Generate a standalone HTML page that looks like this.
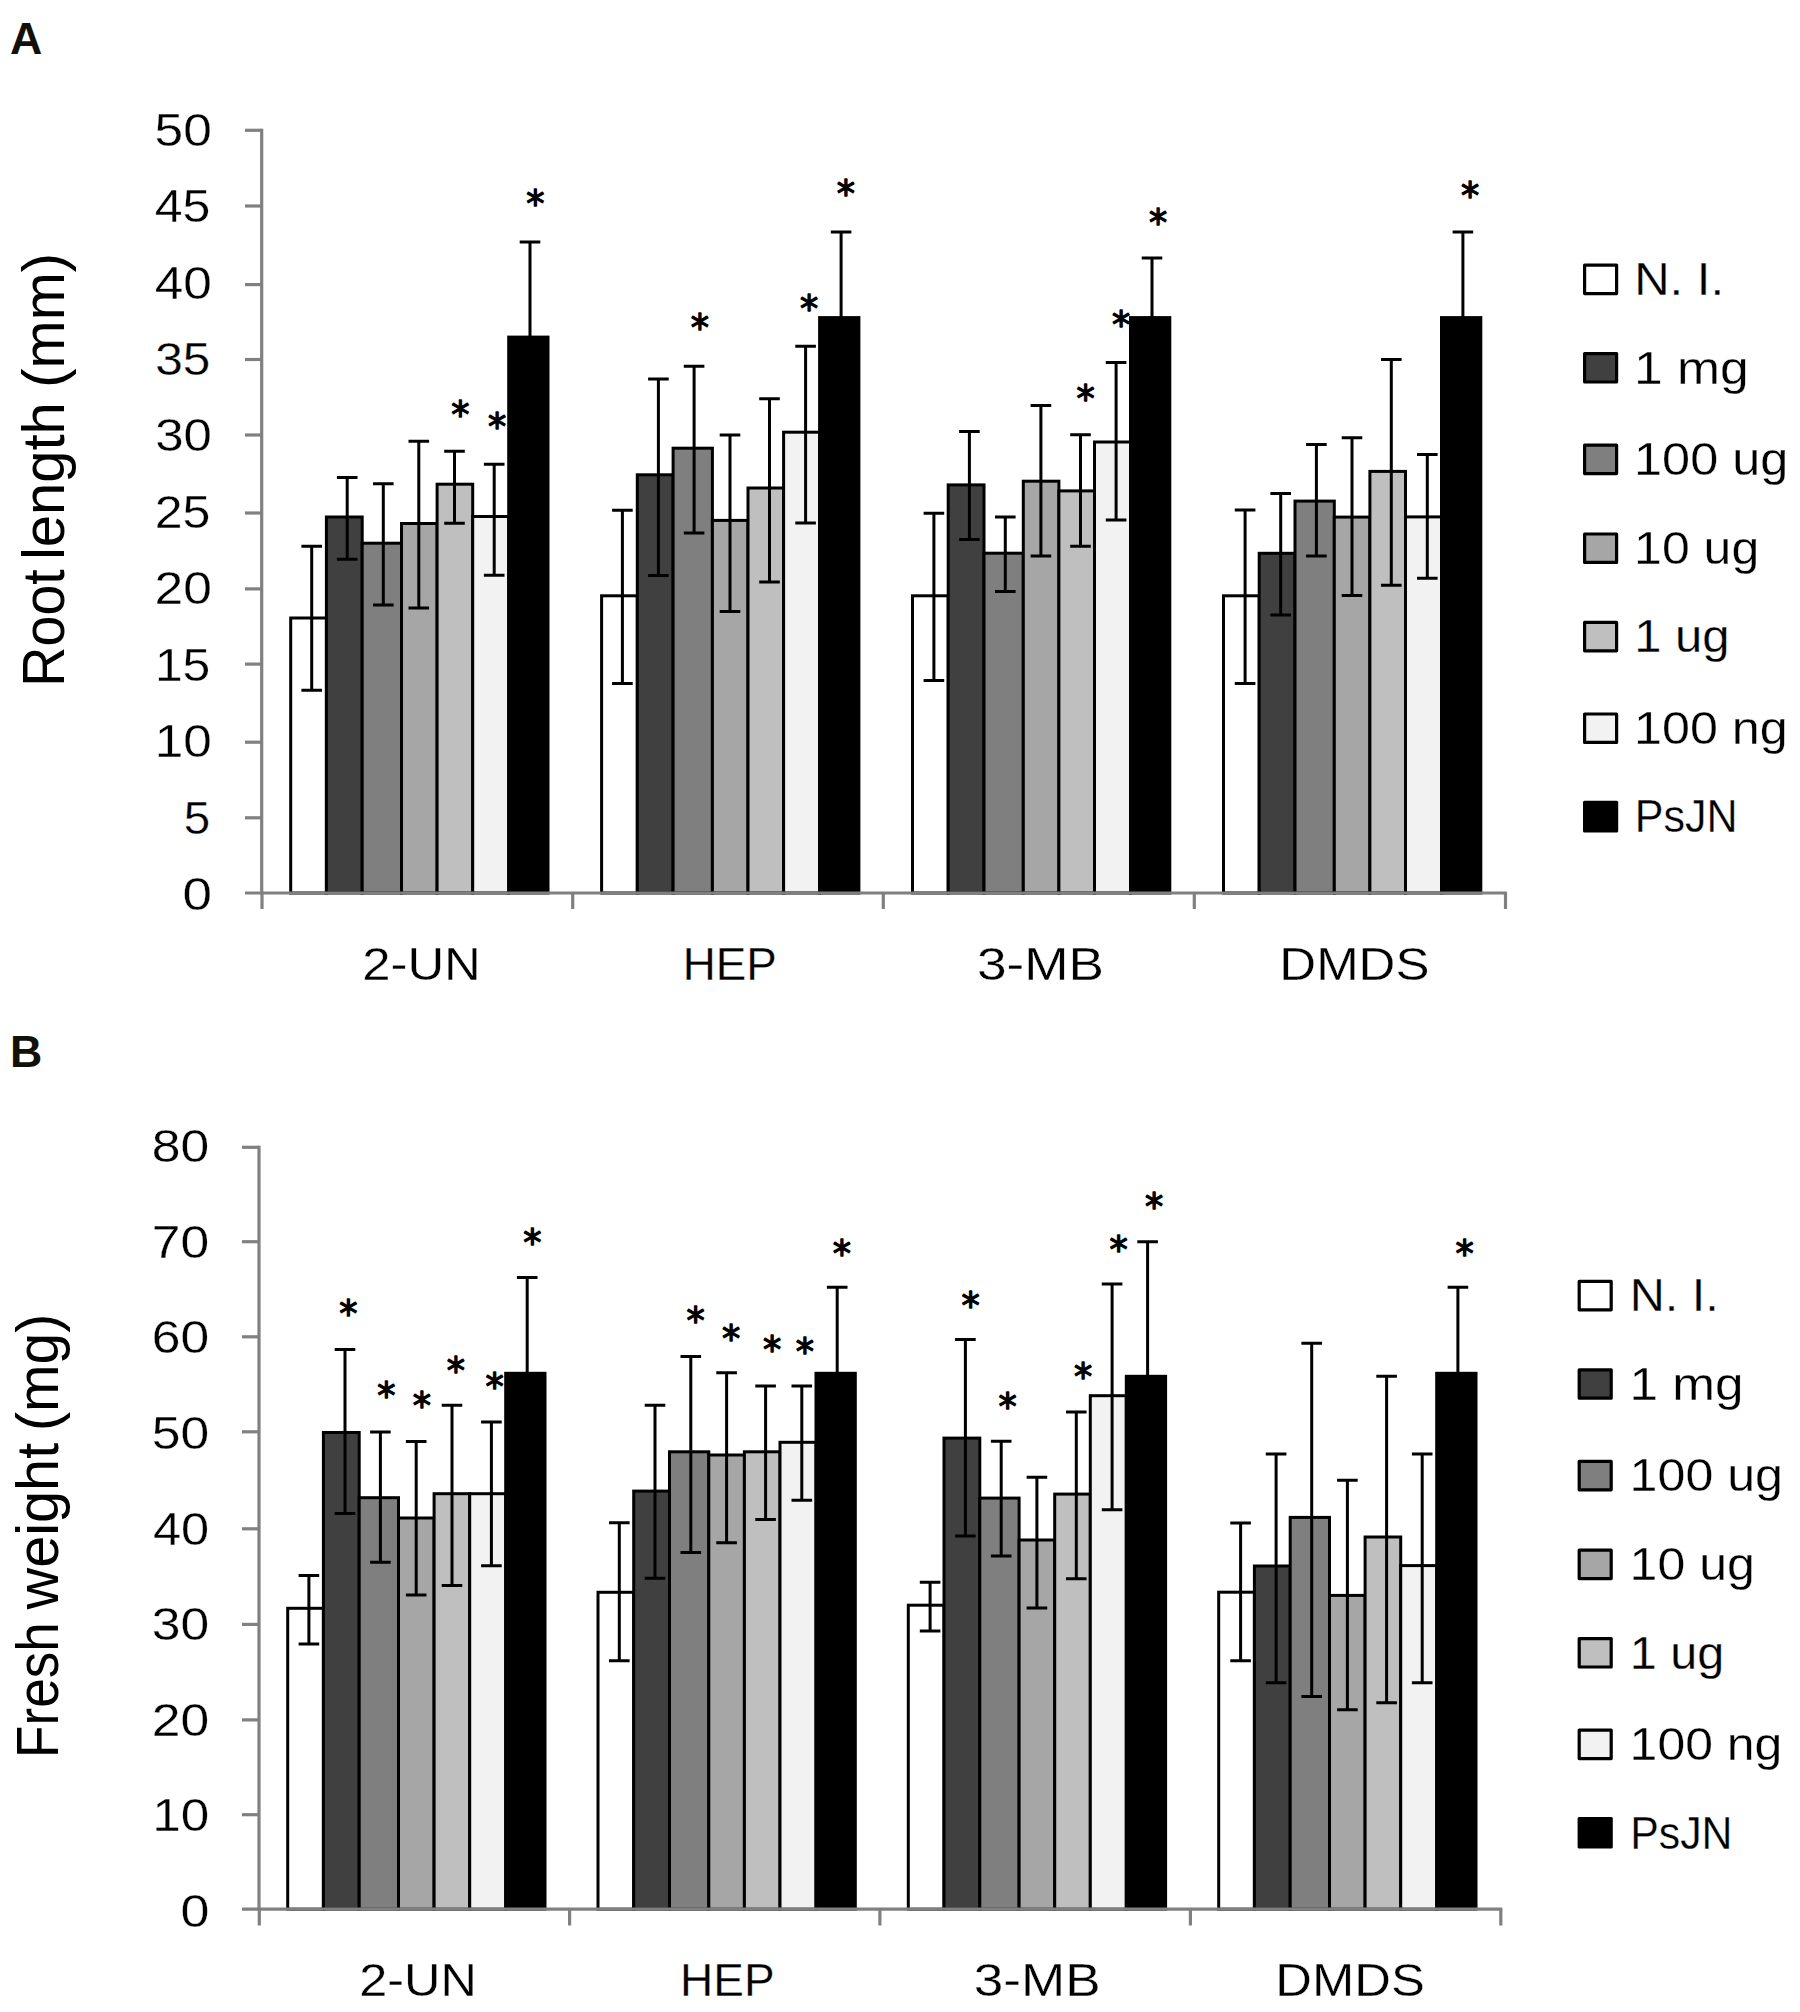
<!DOCTYPE html>
<html lang="en"><head><meta charset="utf-8"><title>Figure: root length and fresh weight</title>
<style>html,body{margin:0;padding:0;background:#fff}svg{display:block}text{white-space:pre}</style></head>
<body>
<svg width="1800" height="2012" viewBox="0 0 1800 2012">
<rect width="1800" height="2012" fill="#fff"/>
<rect x="290.7" y="618" width="35.7" height="275" fill="#ffffff" stroke="#000" stroke-width="3"/>
<rect x="326.4" y="517" width="35.8" height="376" fill="#404040" stroke="#000" stroke-width="3"/>
<rect x="362.2" y="543.2" width="39.3" height="349.8" fill="#7f7f7f" stroke="#000" stroke-width="3"/>
<rect x="401.5" y="523.5" width="35.6" height="369.5" fill="#a6a6a6" stroke="#000" stroke-width="3"/>
<rect x="437.1" y="484.2" width="35.6" height="408.8" fill="#bfbfbf" stroke="#000" stroke-width="3"/>
<rect x="472.7" y="516.5" width="36" height="376.5" fill="#f2f2f2" stroke="#000" stroke-width="3"/>
<rect x="507.2" y="335.6" width="42.3" height="558.9" fill="#000"/>
<rect x="601.6" y="595.8" width="35.7" height="297.2" fill="#ffffff" stroke="#000" stroke-width="3"/>
<rect x="637.3" y="474.8" width="35.8" height="418.2" fill="#404040" stroke="#000" stroke-width="3"/>
<rect x="673.1" y="448.2" width="39.3" height="444.8" fill="#7f7f7f" stroke="#000" stroke-width="3"/>
<rect x="712.4" y="520.4" width="35.6" height="372.6" fill="#a6a6a6" stroke="#000" stroke-width="3"/>
<rect x="748" y="488" width="35.6" height="405" fill="#bfbfbf" stroke="#000" stroke-width="3"/>
<rect x="783.6" y="432.2" width="36" height="460.8" fill="#f2f2f2" stroke="#000" stroke-width="3"/>
<rect x="818.1" y="316.1" width="42.3" height="578.4" fill="#000"/>
<rect x="912.5" y="595.8" width="35.7" height="297.2" fill="#ffffff" stroke="#000" stroke-width="3"/>
<rect x="948.2" y="484.9" width="35.8" height="408.1" fill="#404040" stroke="#000" stroke-width="3"/>
<rect x="984" y="553.2" width="39.3" height="339.8" fill="#7f7f7f" stroke="#000" stroke-width="3"/>
<rect x="1023.3" y="481.2" width="35.6" height="411.8" fill="#a6a6a6" stroke="#000" stroke-width="3"/>
<rect x="1058.9" y="490.9" width="35.6" height="402.1" fill="#bfbfbf" stroke="#000" stroke-width="3"/>
<rect x="1094.5" y="442" width="36" height="451" fill="#f2f2f2" stroke="#000" stroke-width="3"/>
<rect x="1129" y="316.1" width="42.3" height="578.4" fill="#000"/>
<rect x="1223.5" y="595.8" width="35.7" height="297.2" fill="#ffffff" stroke="#000" stroke-width="3"/>
<rect x="1259.2" y="553.3" width="35.8" height="339.7" fill="#404040" stroke="#000" stroke-width="3"/>
<rect x="1295" y="501.1" width="39.3" height="391.9" fill="#7f7f7f" stroke="#000" stroke-width="3"/>
<rect x="1334.3" y="517.1" width="35.6" height="375.9" fill="#a6a6a6" stroke="#000" stroke-width="3"/>
<rect x="1369.9" y="471.4" width="35.6" height="421.6" fill="#bfbfbf" stroke="#000" stroke-width="3"/>
<rect x="1405.5" y="516.9" width="36" height="376.1" fill="#f2f2f2" stroke="#000" stroke-width="3"/>
<rect x="1440" y="316.1" width="42.3" height="578.4" fill="#000"/>
<g stroke="#808080" stroke-width="3.2" fill="none" stroke-linejoin="round">
<path d="M261.7 128.8 V894.5"/>
<path d="M245 893 H1507"/>
<path d="M245 130.3 H261.7"/>
<path d="M245 206 H261.7"/>
<path d="M245 284.6 H261.7"/>
<path d="M245 359.5 H261.7"/>
<path d="M245 435 H261.7"/>
<path d="M245 513 H261.7"/>
<path d="M245 588.9 H261.7"/>
<path d="M245 664.1 H261.7"/>
<path d="M245 742.2 H261.7"/>
<path d="M245 817.8 H261.7"/>
<path d="M262 893 V909"/>
<path d="M572.7 893 V909"/>
<path d="M883.3 893 V909"/>
<path d="M1194.3 893 V909"/>
<path d="M1505.5 893 V909"/>
</g>
<g stroke="#000" stroke-width="3" fill="none">
<path d="M311.7 546.3 V690.3 M301.4 546.3 H322 M301.4 690.3 H322"/>
<path d="M347.2 477.5 V559.2 M336.9 477.5 H357.5 M336.9 559.2 H357.5"/>
<path d="M383.3 483.8 V605 M373 483.8 H393.6 M373 605 H393.6"/>
<path d="M418.8 441.2 V608 M408.5 441.2 H429.1 M408.5 608 H429.1"/>
<path d="M454.5 451.2 V523.3 M444.2 451.2 H464.8 M444.2 523.3 H464.8"/>
<path d="M494.2 464.2 V575.3 M483.9 464.2 H504.5 M483.9 575.3 H504.5"/>
<path d="M530 242 V339.6 M519.7 242 H540.3"/>
<path d="M622.4 510.3 V683.5 M612.1 510.3 H632.7 M612.1 683.5 H632.7"/>
<path d="M658.4 379 V575.6 M648.1 379 H668.7 M648.1 575.6 H668.7"/>
<path d="M694.1 366.2 V532.9 M683.8 366.2 H704.4 M683.8 532.9 H704.4"/>
<path d="M730 435 V611.5 M719.7 435 H740.3 M719.7 611.5 H740.3"/>
<path d="M769.5 398.8 V582.1 M759.2 398.8 H779.8 M759.2 582.1 H779.8"/>
<path d="M805.6 346.3 V523.1 M795.3 346.3 H815.9 M795.3 523.1 H815.9"/>
<path d="M841.1 232 V320.1 M830.8 232 H851.4"/>
<path d="M933.9 513.3 V680.4 M923.6 513.3 H944.2 M923.6 680.4 H944.2"/>
<path d="M969.4 431.4 V539.5 M959.1 431.4 H979.7 M959.1 539.5 H979.7"/>
<path d="M1005.3 516.9 V591.6 M995 516.9 H1015.6 M995 591.6 H1015.6"/>
<path d="M1040.9 405.4 V556 M1030.6 405.4 H1051.2 M1030.6 556 H1051.2"/>
<path d="M1080.5 434.8 V546.2 M1070.2 434.8 H1090.8 M1070.2 546.2 H1090.8"/>
<path d="M1116.1 362.6 V519.9 M1105.8 362.6 H1126.4 M1105.8 519.9 H1126.4"/>
<path d="M1152 257.9 V320.1 M1141.7 257.9 H1162.3"/>
<path d="M1245.1 510.1 V683.5 M1234.8 510.1 H1255.4 M1234.8 683.5 H1255.4"/>
<path d="M1280.7 493.4 V615 M1270.4 493.4 H1291 M1270.4 615 H1291"/>
<path d="M1316.4 444.6 V556 M1306.1 444.6 H1326.7 M1306.1 556 H1326.7"/>
<path d="M1352 437.8 V595.5 M1341.7 437.8 H1362.3 M1341.7 595.5 H1362.3"/>
<path d="M1391.3 359.6 V585.3 M1381 359.6 H1401.6 M1381 585.3 H1401.6"/>
<path d="M1427.3 454.4 V578.2 M1417 454.4 H1437.6 M1417 578.2 H1437.6"/>
<path d="M1462.9 232 V320.1 M1452.6 232 H1473.2"/>
</g>
<rect x="287.7" y="1608.3" width="35.7" height="300.9" fill="#ffffff" stroke="#000" stroke-width="3"/>
<rect x="323.4" y="1432.5" width="35.8" height="476.7" fill="#404040" stroke="#000" stroke-width="3"/>
<rect x="359.2" y="1497.7" width="39.3" height="411.5" fill="#7f7f7f" stroke="#000" stroke-width="3"/>
<rect x="398.5" y="1518" width="35.6" height="391.2" fill="#a6a6a6" stroke="#000" stroke-width="3"/>
<rect x="434.1" y="1493.7" width="35.6" height="415.5" fill="#bfbfbf" stroke="#000" stroke-width="3"/>
<rect x="469.7" y="1493.7" width="36" height="415.5" fill="#f2f2f2" stroke="#000" stroke-width="3"/>
<rect x="504.2" y="1371.8" width="42.3" height="538.9" fill="#000"/>
<rect x="598" y="1592.3" width="35.7" height="316.9" fill="#ffffff" stroke="#000" stroke-width="3"/>
<rect x="633.7" y="1491.1" width="35.8" height="418.1" fill="#404040" stroke="#000" stroke-width="3"/>
<rect x="669.5" y="1451.8" width="39.3" height="457.4" fill="#7f7f7f" stroke="#000" stroke-width="3"/>
<rect x="708.8" y="1455" width="35.6" height="454.2" fill="#a6a6a6" stroke="#000" stroke-width="3"/>
<rect x="744.4" y="1451.8" width="35.6" height="457.4" fill="#bfbfbf" stroke="#000" stroke-width="3"/>
<rect x="780" y="1442.3" width="36" height="466.9" fill="#f2f2f2" stroke="#000" stroke-width="3"/>
<rect x="814.5" y="1371.8" width="42.3" height="538.9" fill="#000"/>
<rect x="908.3" y="1605.2" width="35.7" height="304" fill="#ffffff" stroke="#000" stroke-width="3"/>
<rect x="944" y="1438.1" width="35.8" height="471.1" fill="#404040" stroke="#000" stroke-width="3"/>
<rect x="979.8" y="1498.1" width="39.3" height="411.1" fill="#7f7f7f" stroke="#000" stroke-width="3"/>
<rect x="1019.1" y="1540" width="35.6" height="369.2" fill="#a6a6a6" stroke="#000" stroke-width="3"/>
<rect x="1054.7" y="1494.1" width="35.6" height="415.1" fill="#bfbfbf" stroke="#000" stroke-width="3"/>
<rect x="1090.3" y="1395.7" width="36" height="513.5" fill="#f2f2f2" stroke="#000" stroke-width="3"/>
<rect x="1124.8" y="1374.8" width="42.3" height="535.9" fill="#000"/>
<rect x="1218.7" y="1592.2" width="35.7" height="317" fill="#ffffff" stroke="#000" stroke-width="3"/>
<rect x="1254.4" y="1566" width="35.8" height="343.2" fill="#404040" stroke="#000" stroke-width="3"/>
<rect x="1290.2" y="1517.4" width="39.3" height="391.8" fill="#7f7f7f" stroke="#000" stroke-width="3"/>
<rect x="1329.5" y="1595.4" width="35.6" height="313.8" fill="#a6a6a6" stroke="#000" stroke-width="3"/>
<rect x="1365.1" y="1537" width="35.6" height="372.2" fill="#bfbfbf" stroke="#000" stroke-width="3"/>
<rect x="1400.7" y="1565.6" width="36" height="343.6" fill="#f2f2f2" stroke="#000" stroke-width="3"/>
<rect x="1435.2" y="1371.8" width="42.3" height="538.9" fill="#000"/>
<g stroke="#808080" stroke-width="3.2" fill="none" stroke-linejoin="round">
<path d="M259 1145.8 V1910.7"/>
<path d="M242 1909.2 H1502.3"/>
<path d="M242 1147.3 H259"/>
<path d="M242 1241.7 H259"/>
<path d="M242 1336.8 H259"/>
<path d="M242 1431.8 H259"/>
<path d="M242 1528.8 H259"/>
<path d="M242 1624.4 H259"/>
<path d="M242 1719.9 H259"/>
<path d="M242 1814.7 H259"/>
<path d="M259.3 1909.2 V1925.5"/>
<path d="M569.6 1909.2 V1925.5"/>
<path d="M879.9 1909.2 V1925.5"/>
<path d="M1190.4 1909.2 V1925.5"/>
<path d="M1500.8 1909.2 V1925.5"/>
</g>
<g stroke="#000" stroke-width="3" fill="none">
<path d="M308.9 1575.5 V1644.1 M298.6 1575.5 H319.2 M298.6 1644.1 H319.2"/>
<path d="M345 1349.4 V1513.6 M334.7 1349.4 H355.3 M334.7 1513.6 H355.3"/>
<path d="M380.4 1432.1 V1562.3 M370.1 1432.1 H390.7 M370.1 1562.3 H390.7"/>
<path d="M416.2 1441.6 V1595 M405.9 1441.6 H426.5 M405.9 1595 H426.5"/>
<path d="M452 1405.3 V1585.4 M441.7 1405.3 H462.3 M441.7 1585.4 H462.3"/>
<path d="M491.4 1421.9 V1565.7 M481.1 1421.9 H501.7 M481.1 1565.7 H501.7"/>
<path d="M527.2 1277.5 V1375.8 M516.9 1277.5 H537.5"/>
<path d="M619.3 1522.8 V1660.8 M609 1522.8 H629.6 M609 1660.8 H629.6"/>
<path d="M655 1405.3 V1578.3 M644.7 1405.3 H665.3 M644.7 1578.3 H665.3"/>
<path d="M690.8 1356.6 V1552.5 M680.5 1356.6 H701.1 M680.5 1552.5 H701.1"/>
<path d="M726.6 1372.7 V1542.7 M716.3 1372.7 H736.9 M716.3 1542.7 H736.9"/>
<path d="M765.6 1386.1 V1519.5 M755.3 1386.1 H775.9 M755.3 1519.5 H775.9"/>
<path d="M801.8 1386.1 V1500.2 M791.5 1386.1 H812.1 M791.5 1500.2 H812.1"/>
<path d="M837.2 1287.3 V1375.8 M826.9 1287.3 H847.5"/>
<path d="M930.1 1582.2 V1631.1 M919.8 1582.2 H940.4 M919.8 1631.1 H940.4"/>
<path d="M965.4 1339.5 V1536 M955.1 1339.5 H975.7 M955.1 1536 H975.7"/>
<path d="M1001.2 1441.3 V1555.9 M990.9 1441.3 H1011.5 M990.9 1555.9 H1011.5"/>
<path d="M1036.9 1477.3 V1608 M1026.6 1477.3 H1047.2 M1026.6 1608 H1047.2"/>
<path d="M1076.3 1412 V1578.7 M1066 1412 H1086.6 M1066 1578.7 H1086.6"/>
<path d="M1112.1 1284 V1509.8 M1101.8 1284 H1122.4 M1101.8 1509.8 H1122.4"/>
<path d="M1147.6 1241.8 V1378.8 M1137.3 1241.8 H1157.9"/>
<path d="M1240.6 1523 V1660.8 M1230.3 1523 H1250.9 M1230.3 1660.8 H1250.9"/>
<path d="M1276.1 1454.1 V1682.7 M1265.8 1454.1 H1286.4 M1265.8 1682.7 H1286.4"/>
<path d="M1311.7 1343.2 V1696.4 M1301.4 1343.2 H1322 M1301.4 1696.4 H1322"/>
<path d="M1347.4 1480.2 V1709.7 M1337.1 1480.2 H1357.7 M1337.1 1709.7 H1357.7"/>
<path d="M1386.6 1376.3 V1702.8 M1376.3 1376.3 H1396.9 M1376.3 1702.8 H1396.9"/>
<path d="M1422.2 1454.1 V1682.7 M1411.9 1454.1 H1432.5 M1411.9 1682.7 H1432.5"/>
<path d="M1457.9 1287.3 V1375.8 M1447.6 1287.3 H1468.2"/>
</g>
<rect x="1584.6" y="265.2" width="32" height="28.4" fill="#ffffff" stroke="#000" stroke-width="3.2" stroke-linejoin="round"/>
<rect x="1584.6" y="353.6" width="32" height="28.4" fill="#404040" stroke="#000" stroke-width="3.2" stroke-linejoin="round"/>
<rect x="1584.6" y="445.2" width="32" height="28.4" fill="#7f7f7f" stroke="#000" stroke-width="3.2" stroke-linejoin="round"/>
<rect x="1584.6" y="534" width="32" height="28.4" fill="#a6a6a6" stroke="#000" stroke-width="3.2" stroke-linejoin="round"/>
<rect x="1584.6" y="622.4" width="32" height="28.4" fill="#bfbfbf" stroke="#000" stroke-width="3.2" stroke-linejoin="round"/>
<rect x="1584.6" y="714" width="32" height="28.4" fill="#f2f2f2" stroke="#000" stroke-width="3.2" stroke-linejoin="round"/>
<rect x="1583" y="800.8" width="35.2" height="31.6" rx="1.5" fill="#000"/>
<rect x="1579.2" y="1281.4" width="32" height="28.4" fill="#ffffff" stroke="#000" stroke-width="3.2" stroke-linejoin="round"/>
<rect x="1579.2" y="1369.8" width="32" height="28.4" fill="#404040" stroke="#000" stroke-width="3.2" stroke-linejoin="round"/>
<rect x="1579.2" y="1461.4" width="32" height="28.4" fill="#7f7f7f" stroke="#000" stroke-width="3.2" stroke-linejoin="round"/>
<rect x="1579.2" y="1550.2" width="32" height="28.4" fill="#a6a6a6" stroke="#000" stroke-width="3.2" stroke-linejoin="round"/>
<rect x="1579.2" y="1638.6" width="32" height="28.4" fill="#bfbfbf" stroke="#000" stroke-width="3.2" stroke-linejoin="round"/>
<rect x="1579.2" y="1730.2" width="32" height="28.4" fill="#f2f2f2" stroke="#000" stroke-width="3.2" stroke-linejoin="round"/>
<rect x="1577.6" y="1817" width="35.2" height="31.6" rx="1.5" fill="#000"/>
<text transform="translate(10 53.9) scale(1.0000 1)" font-family='"Liberation Sans", sans-serif' font-size="44.7" font-weight="bold" text-anchor="start" fill="#12100b">A</text>
<text transform="translate(10 1067) scale(1.0000 1)" font-family='"Liberation Sans", sans-serif' font-size="44.7" font-weight="bold" text-anchor="start" fill="#12100b">B</text>
<text transform="translate(154.58 145.6) scale(1.1083 1)" font-family='"Liberation Sans", sans-serif' font-size="46.5" font-weight="normal" text-anchor="start" fill="#000" stroke="#fff" stroke-width="0.3">50</text>
<text transform="translate(154.72 222.06) scale(1.0755 1)" font-family='"Liberation Sans", sans-serif' font-size="46.5" font-weight="normal" text-anchor="start" fill="#000" stroke="#fff" stroke-width="0.3">45</text>
<text transform="translate(154.69 298.52) scale(1.1061 1)" font-family='"Liberation Sans", sans-serif' font-size="46.5" font-weight="normal" text-anchor="start" fill="#000" stroke="#fff" stroke-width="0.3">40</text>
<text transform="translate(155.27 374.98) scale(1.0646 1)" font-family='"Liberation Sans", sans-serif' font-size="46.5" font-weight="normal" text-anchor="start" fill="#000" stroke="#fff" stroke-width="0.3">35</text>
<text transform="translate(155.21 451.44) scale(1.0958 1)" font-family='"Liberation Sans", sans-serif' font-size="46.5" font-weight="normal" text-anchor="start" fill="#000" stroke="#fff" stroke-width="0.3">30</text>
<text transform="translate(154.65 527.9) scale(1.0771 1)" font-family='"Liberation Sans", sans-serif' font-size="46.5" font-weight="normal" text-anchor="start" fill="#000" stroke="#fff" stroke-width="0.3">25</text>
<text transform="translate(154.58 604.36) scale(1.1083 1)" font-family='"Liberation Sans", sans-serif' font-size="46.5" font-weight="normal" text-anchor="start" fill="#000" stroke="#fff" stroke-width="0.3">20</text>
<text transform="translate(154.91 680.82) scale(1.0717 1)" font-family='"Liberation Sans", sans-serif' font-size="46.5" font-weight="normal" text-anchor="start" fill="#000" stroke="#fff" stroke-width="0.3">15</text>
<text transform="translate(154.78 757.28) scale(1.1043 1)" font-family='"Liberation Sans", sans-serif' font-size="46.5" font-weight="normal" text-anchor="start" fill="#000" stroke="#fff" stroke-width="0.3">10</text>
<text transform="translate(183.85 833.74) scale(1.0227 1)" font-family='"Liberation Sans", sans-serif' font-size="46.5" font-weight="normal" text-anchor="start" fill="#000" stroke="#fff" stroke-width="0.3">5</text>
<text transform="translate(182.42 910.2) scale(1.1409 1)" font-family='"Liberation Sans", sans-serif' font-size="46.5" font-weight="normal" text-anchor="start" fill="#000" stroke="#fff" stroke-width="0.3">0</text>
<text transform="translate(151.78 1161.9) scale(1.1104 1)" font-family='"Liberation Sans", sans-serif' font-size="46.5" font-weight="normal" text-anchor="start" fill="#000" stroke="#fff" stroke-width="0.3">80</text>
<text transform="translate(151.78 1257.55) scale(1.1104 1)" font-family='"Liberation Sans", sans-serif' font-size="46.5" font-weight="normal" text-anchor="start" fill="#000" stroke="#fff" stroke-width="0.3">70</text>
<text transform="translate(151.78 1353.2) scale(1.1104 1)" font-family='"Liberation Sans", sans-serif' font-size="46.5" font-weight="normal" text-anchor="start" fill="#000" stroke="#fff" stroke-width="0.3">60</text>
<text transform="translate(151.78 1448.85) scale(1.1104 1)" font-family='"Liberation Sans", sans-serif' font-size="46.5" font-weight="normal" text-anchor="start" fill="#000" stroke="#fff" stroke-width="0.3">50</text>
<text transform="translate(152.91 1544.5) scale(1.0878 1)" font-family='"Liberation Sans", sans-serif' font-size="46.5" font-weight="normal" text-anchor="start" fill="#000" stroke="#fff" stroke-width="0.3">40</text>
<text transform="translate(151.78 1640.15) scale(1.1104 1)" font-family='"Liberation Sans", sans-serif' font-size="46.5" font-weight="normal" text-anchor="start" fill="#000" stroke="#fff" stroke-width="0.3">30</text>
<text transform="translate(151.78 1735.8) scale(1.1104 1)" font-family='"Liberation Sans", sans-serif' font-size="46.5" font-weight="normal" text-anchor="start" fill="#000" stroke="#fff" stroke-width="0.3">20</text>
<text transform="translate(152.19 1831.45) scale(1.1022 1)" font-family='"Liberation Sans", sans-serif' font-size="46.5" font-weight="normal" text-anchor="start" fill="#000" stroke="#fff" stroke-width="0.3">10</text>
<text transform="translate(180.46 1927.1) scale(1.1182 1)" font-family='"Liberation Sans", sans-serif' font-size="46.5" font-weight="normal" text-anchor="start" fill="#000" stroke="#fff" stroke-width="0.3">0</text>
<text transform="translate(362.21 980.2) scale(1.0932 1)" font-family='"Liberation Sans", sans-serif' font-size="46.5" font-weight="normal" text-anchor="start" fill="#000" stroke="#fff" stroke-width="0.3">2-UN</text>
<text transform="translate(682.76 980.2) scale(0.9843 1)" font-family='"Liberation Sans", sans-serif' font-size="46.5" font-weight="normal" text-anchor="start" fill="#000" stroke="#fff" stroke-width="0.3">HEP</text>
<text transform="translate(977.01 980.2) scale(1.1439 1)" font-family='"Liberation Sans", sans-serif' font-size="46.5" font-weight="normal" text-anchor="start" fill="#000" stroke="#fff" stroke-width="0.3">3-MB</text>
<text transform="translate(1279.31 980.2) scale(1.0969 1)" font-family='"Liberation Sans", sans-serif' font-size="46.5" font-weight="normal" text-anchor="start" fill="#000" stroke="#fff" stroke-width="0.3">DMDS</text>
<text transform="translate(359.13 1996.4) scale(1.0854 1)" font-family='"Liberation Sans", sans-serif' font-size="46.5" font-weight="normal" text-anchor="start" fill="#000" stroke="#fff" stroke-width="0.3">2-UN</text>
<text transform="translate(680.04 1996.4) scale(0.9888 1)" font-family='"Liberation Sans", sans-serif' font-size="46.5" font-weight="normal" text-anchor="start" fill="#000" stroke="#fff" stroke-width="0.3">HEP</text>
<text transform="translate(973.72 1996.4) scale(1.1421 1)" font-family='"Liberation Sans", sans-serif' font-size="46.5" font-weight="normal" text-anchor="start" fill="#000" stroke="#fff" stroke-width="0.3">3-MB</text>
<text transform="translate(1275.33 1996.4) scale(1.0916 1)" font-family='"Liberation Sans", sans-serif' font-size="46.5" font-weight="normal" text-anchor="start" fill="#000" stroke="#fff" stroke-width="0.3">DMDS</text>
<text transform="translate(1634.18 295.2) scale(1.0545 1)" font-family='"Liberation Sans", sans-serif' font-size="46.5" font-weight="normal" text-anchor="start" fill="#000" stroke="#fff" stroke-width="0.3">N. I.</text>
<text transform="translate(1629.72 1311.4) scale(1.0455 1)" font-family='"Liberation Sans", sans-serif' font-size="46.5" font-weight="normal" text-anchor="start" fill="#000" stroke="#fff" stroke-width="0.3">N. I.</text>
<text transform="translate(1633.96 383.6) scale(1.1104 1)" font-family='"Liberation Sans", sans-serif' font-size="46.5" font-weight="normal" text-anchor="start" fill="#000" stroke="#fff" stroke-width="0.3">1 mg</text>
<text transform="translate(1629.49 1399.8) scale(1.1031 1)" font-family='"Liberation Sans", sans-serif' font-size="46.5" font-weight="normal" text-anchor="start" fill="#000" stroke="#fff" stroke-width="0.3">1 mg</text>
<text transform="translate(1634.06 475.2) scale(1.0844 1)" font-family='"Liberation Sans", sans-serif' font-size="46.5" font-weight="normal" text-anchor="start" fill="#000" stroke="#fff" stroke-width="0.3">100 ug</text>
<text transform="translate(1629.58 1491.4) scale(1.0793 1)" font-family='"Liberation Sans", sans-serif' font-size="46.5" font-weight="normal" text-anchor="start" fill="#000" stroke="#fff" stroke-width="0.3">100 ug</text>
<text transform="translate(1634.1 564) scale(1.0752 1)" font-family='"Liberation Sans", sans-serif' font-size="46.5" font-weight="normal" text-anchor="start" fill="#000" stroke="#fff" stroke-width="0.3">10 ug</text>
<text transform="translate(1629.6 1580.2) scale(1.0761 1)" font-family='"Liberation Sans", sans-serif' font-size="46.5" font-weight="normal" text-anchor="start" fill="#000" stroke="#fff" stroke-width="0.3">10 ug</text>
<text transform="translate(1634.18 652.4) scale(1.0548 1)" font-family='"Liberation Sans", sans-serif' font-size="46.5" font-weight="normal" text-anchor="start" fill="#000" stroke="#fff" stroke-width="0.3">1 ug</text>
<text transform="translate(1629.72 1668.6) scale(1.0440 1)" font-family='"Liberation Sans", sans-serif' font-size="46.5" font-weight="normal" text-anchor="start" fill="#000" stroke="#fff" stroke-width="0.3">1 ug</text>
<text transform="translate(1634.08 744) scale(1.0807 1)" font-family='"Liberation Sans", sans-serif' font-size="46.5" font-weight="normal" text-anchor="start" fill="#000" stroke="#fff" stroke-width="0.3">100 ng</text>
<text transform="translate(1629.6 1760.2) scale(1.0741 1)" font-family='"Liberation Sans", sans-serif' font-size="46.5" font-weight="normal" text-anchor="start" fill="#000" stroke="#fff" stroke-width="0.3">100 ng</text>
<text transform="translate(1634.7 832.4) scale(0.9262 1)" font-family='"Liberation Sans", sans-serif' font-size="46.5" font-weight="normal" text-anchor="start" fill="#000" stroke="#fff" stroke-width="0.3">PsJN</text>
<text transform="translate(1630.21 1848.6) scale(0.9214 1)" font-family='"Liberation Sans", sans-serif' font-size="46.5" font-weight="normal" text-anchor="start" fill="#000" stroke="#fff" stroke-width="0.3">PsJN</text>
<text transform="translate(63.8 682.1) rotate(-90) scale(1.0000 1)" font-family='"Liberation Sans", sans-serif' font-size="60" font-weight="normal" text-anchor="start" fill="#000"><tspan x="-4.64" textLength="117.53" lengthAdjust="spacingAndGlyphs">Root</tspan> <tspan x="122.04" textLength="157.89" lengthAdjust="spacingAndGlyphs">length</tspan> <tspan x="294.45" textLength="134.73" lengthAdjust="spacingAndGlyphs">(mm)</tspan></text>
<text transform="translate(57.9 1753.5) rotate(-90) scale(1.0000 1)" font-family='"Liberation Sans", sans-serif' font-size="60" font-weight="normal" text-anchor="start" fill="#000"><tspan x="-4.42" textLength="135.59" lengthAdjust="spacingAndGlyphs">Fresh</tspan> <tspan x="144.00" textLength="166.72" lengthAdjust="spacingAndGlyphs">weight</tspan> <tspan x="322.60" textLength="117.09" lengthAdjust="spacingAndGlyphs">(mg)</tspan></text>
<text transform="translate(451.29 427.68) scale(1.0000 1)" font-family='"DejaVu Sans", sans-serif' font-size="36.42" font-weight="normal" text-anchor="start" fill="#000" stroke="#000" stroke-width="1.3" stroke-linejoin="round">*</text>
<text transform="translate(487.89 440.28) scale(1.0000 1)" font-family='"DejaVu Sans", sans-serif' font-size="36.42" font-weight="normal" text-anchor="start" fill="#000" stroke="#000" stroke-width="1.3" stroke-linejoin="round">*</text>
<text transform="translate(526.19 217.48) scale(1.0000 1)" font-family='"DejaVu Sans", sans-serif' font-size="36.42" font-weight="normal" text-anchor="start" fill="#000" stroke="#000" stroke-width="1.3" stroke-linejoin="round">*</text>
<text transform="translate(690.69 340.58) scale(1.0000 1)" font-family='"DejaVu Sans", sans-serif' font-size="36.42" font-weight="normal" text-anchor="start" fill="#000" stroke="#000" stroke-width="1.3" stroke-linejoin="round">*</text>
<text transform="translate(799.89 322.28) scale(1.0000 1)" font-family='"DejaVu Sans", sans-serif' font-size="36.42" font-weight="normal" text-anchor="start" fill="#000" stroke="#000" stroke-width="1.3" stroke-linejoin="round">*</text>
<text transform="translate(836.69 207.38) scale(1.0000 1)" font-family='"DejaVu Sans", sans-serif' font-size="36.42" font-weight="normal" text-anchor="start" fill="#000" stroke="#000" stroke-width="1.3" stroke-linejoin="round">*</text>
<text transform="translate(1076.39 411.88) scale(1.0000 1)" font-family='"DejaVu Sans", sans-serif' font-size="36.42" font-weight="normal" text-anchor="start" fill="#000" stroke="#000" stroke-width="1.3" stroke-linejoin="round">*</text>
<text transform="translate(1111.89 338.28) scale(1.0000 1)" font-family='"DejaVu Sans", sans-serif' font-size="36.42" font-weight="normal" text-anchor="start" fill="#000" stroke="#000" stroke-width="1.3" stroke-linejoin="round">*</text>
<text transform="translate(1149.09 235.98) scale(1.0000 1)" font-family='"DejaVu Sans", sans-serif' font-size="36.42" font-weight="normal" text-anchor="start" fill="#000" stroke="#000" stroke-width="1.3" stroke-linejoin="round">*</text>
<text transform="translate(1460.89 208.88) scale(1.0000 1)" font-family='"DejaVu Sans", sans-serif' font-size="36.42" font-weight="normal" text-anchor="start" fill="#000" stroke="#000" stroke-width="1.3" stroke-linejoin="round">*</text>
<text transform="translate(339.29 1327.18) scale(1.0000 1)" font-family='"DejaVu Sans", sans-serif' font-size="36.42" font-weight="normal" text-anchor="start" fill="#000" stroke="#000" stroke-width="1.3" stroke-linejoin="round">*</text>
<text transform="translate(377.29 1409.48) scale(1.0000 1)" font-family='"DejaVu Sans", sans-serif' font-size="36.42" font-weight="normal" text-anchor="start" fill="#000" stroke="#000" stroke-width="1.3" stroke-linejoin="round">*</text>
<text transform="translate(412.69 1419.48) scale(1.0000 1)" font-family='"DejaVu Sans", sans-serif' font-size="36.42" font-weight="normal" text-anchor="start" fill="#000" stroke="#000" stroke-width="1.3" stroke-linejoin="round">*</text>
<text transform="translate(446.69 1384.08) scale(1.0000 1)" font-family='"DejaVu Sans", sans-serif' font-size="36.42" font-weight="normal" text-anchor="start" fill="#000" stroke="#000" stroke-width="1.3" stroke-linejoin="round">*</text>
<text transform="translate(485.39 1399.78) scale(1.0000 1)" font-family='"DejaVu Sans", sans-serif' font-size="36.42" font-weight="normal" text-anchor="start" fill="#000" stroke="#000" stroke-width="1.3" stroke-linejoin="round">*</text>
<text transform="translate(523.29 1256.28) scale(1.0000 1)" font-family='"DejaVu Sans", sans-serif' font-size="36.42" font-weight="normal" text-anchor="start" fill="#000" stroke="#000" stroke-width="1.3" stroke-linejoin="round">*</text>
<text transform="translate(686.39 1334.28) scale(1.0000 1)" font-family='"DejaVu Sans", sans-serif' font-size="36.42" font-weight="normal" text-anchor="start" fill="#000" stroke="#000" stroke-width="1.3" stroke-linejoin="round">*</text>
<text transform="translate(721.99 1351.58) scale(1.0000 1)" font-family='"DejaVu Sans", sans-serif' font-size="36.42" font-weight="normal" text-anchor="start" fill="#000" stroke="#000" stroke-width="1.3" stroke-linejoin="round">*</text>
<text transform="translate(763.09 1363.18) scale(1.0000 1)" font-family='"DejaVu Sans", sans-serif' font-size="36.42" font-weight="normal" text-anchor="start" fill="#000" stroke="#000" stroke-width="1.3" stroke-linejoin="round">*</text>
<text transform="translate(795.69 1364.58) scale(1.0000 1)" font-family='"DejaVu Sans", sans-serif' font-size="36.42" font-weight="normal" text-anchor="start" fill="#000" stroke="#000" stroke-width="1.3" stroke-linejoin="round">*</text>
<text transform="translate(832.79 1266.58) scale(1.0000 1)" font-family='"DejaVu Sans", sans-serif' font-size="36.42" font-weight="normal" text-anchor="start" fill="#000" stroke="#000" stroke-width="1.3" stroke-linejoin="round">*</text>
<text transform="translate(961.59 1318.98) scale(1.0000 1)" font-family='"DejaVu Sans", sans-serif' font-size="36.42" font-weight="normal" text-anchor="start" fill="#000" stroke="#000" stroke-width="1.3" stroke-linejoin="round">*</text>
<text transform="translate(998.59 1419.68) scale(1.0000 1)" font-family='"DejaVu Sans", sans-serif' font-size="36.42" font-weight="normal" text-anchor="start" fill="#000" stroke="#000" stroke-width="1.3" stroke-linejoin="round">*</text>
<text transform="translate(1073.89 1389.68) scale(1.0000 1)" font-family='"DejaVu Sans", sans-serif' font-size="36.42" font-weight="normal" text-anchor="start" fill="#000" stroke="#000" stroke-width="1.3" stroke-linejoin="round">*</text>
<text transform="translate(1109.39 1263.48) scale(1.0000 1)" font-family='"DejaVu Sans", sans-serif' font-size="36.42" font-weight="normal" text-anchor="start" fill="#000" stroke="#000" stroke-width="1.3" stroke-linejoin="round">*</text>
<text transform="translate(1144.89 1219.58) scale(1.0000 1)" font-family='"DejaVu Sans", sans-serif' font-size="36.42" font-weight="normal" text-anchor="start" fill="#000" stroke="#000" stroke-width="1.3" stroke-linejoin="round">*</text>
<text transform="translate(1455.49 1266.98) scale(1.0000 1)" font-family='"DejaVu Sans", sans-serif' font-size="36.42" font-weight="normal" text-anchor="start" fill="#000" stroke="#000" stroke-width="1.3" stroke-linejoin="round">*</text>
</svg>
</body></html>
